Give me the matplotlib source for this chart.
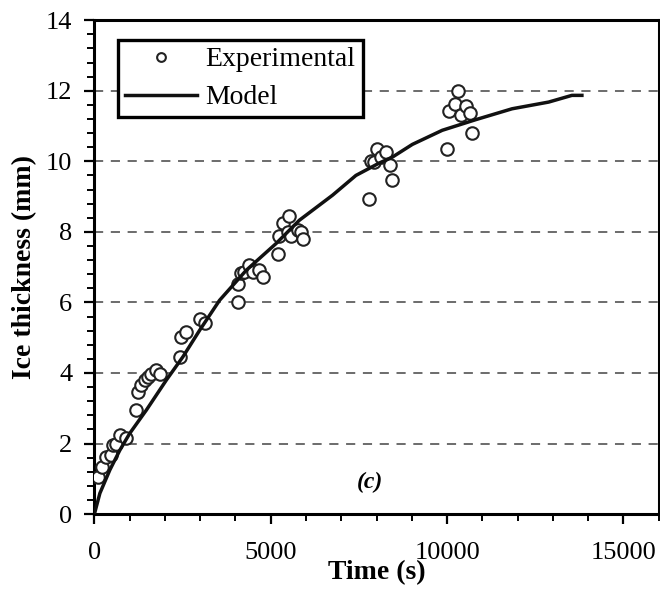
import matplotlib
matplotlib.use("Agg")
import matplotlib.pyplot as plt
from matplotlib.ticker import MultipleLocator

plt.rcParams['font.family'] = ['Liberation Serif', 'DejaVu Serif']

###############################################################################
# experimental points (time in s, thickness in mm)
exp_time = [107, 203, 325, 467, 532, 608, 721, 910, 1174, 1239, 1334, 1428,
            1522, 1617, 1759, 1852, 2418, 2465, 2607, 2984, 3125, 4067, 4067,
            4162, 4256, 4378, 4491, 4680, 4774, 5199, 5246, 5340, 5510, 5482,
            5576, 5765, 5859, 5906, 7791, 7838, 7932, 8027, 8122, 8263, 8377,
            8433, 10006, 10054, 10224, 10318, 10384, 10526, 10648, 10714]
exp_thick = [1.06, 1.34, 1.62, 1.67, 1.95, 2.00, 2.24, 2.17, 2.95, 3.46, 3.65,
             3.80, 3.89, 3.98, 4.08, 3.98, 4.46, 5.02, 5.16, 5.54, 5.42, 6.01,
             6.53, 6.84, 6.86, 7.05, 6.86, 6.93, 6.72, 7.37, 7.88, 8.25, 8.44,
             8.00, 7.88, 8.05, 8.00, 7.81, 8.94, 10.01, 9.98, 10.36, 10.12,
             10.26, 9.89, 9.46, 10.36, 11.43, 11.63, 11.98, 11.30, 11.56,
             11.37, 10.80]

# model curve
model_time = [0, 156, 438, 721, 1004, 1475, 2041, 2511, 2984, 3549, 4304,
              5152, 5812, 6753, 7415, 8074, 8450, 9016, 9864, 10809, 11844,
              12881, 13540, 13823]
model_thick = [0.0, 0.59, 1.25, 1.81, 2.29, 2.95, 3.80, 4.46, 5.21, 6.06, 6.91,
               7.67, 8.33, 9.04, 9.60, 9.95, 10.12, 10.48, 10.88, 11.18, 11.49,
               11.68, 11.87, 11.87]

###############################################################################
fig = plt.figure(figsize=(6.6, 5.95), dpi=100)
ax = fig.add_axes([0.143, 0.136, 0.855, 0.830])

ax.plot(exp_time, exp_thick, 'o', mfc='white', mec='#222222', ms=9,
        mew=1.5, label='Experimental', zorder=3)
ax.plot(model_time, model_thick, '-', color='#111111', lw=2.5,
        label='Model', zorder=4)

ax.set_xlim(0, 16000)
ax.set_ylim(0, 14)
ax.xaxis.set_major_locator(MultipleLocator(5000))
ax.xaxis.set_minor_locator(MultipleLocator(1000))
ax.yaxis.set_major_locator(MultipleLocator(2))
ax.yaxis.set_minor_locator(MultipleLocator(0.4))
ax.set_xticks([0, 5000, 10000, 15000])

for y in range(2, 14, 2):
    ax.axhline(y, color='#444444', lw=1.1, ls=(0, (6, 5)), zorder=1)

for s in ax.spines.values():
    s.set_linewidth(2.2)

ax.tick_params(axis='both', which='major', direction='out', length=7,
               width=1.6, labelsize=19)
ax.tick_params(axis='both', which='minor', direction='out', length=5,
               width=1.4)
ax.tick_params(axis='x', which='major', pad=13)
ax.tick_params(axis='y', which='major', pad=9)

ax.set_xlabel('Time (s)', fontsize=20, fontweight='bold', labelpad=-3)
ax.set_ylabel('Ice thickness (mm)', fontsize=20, fontweight='bold',
              labelpad=6)

ax.text(7800, 0.9, '(c)', fontsize=17, fontweight='bold', style='italic',
        ha='center', va='center')

leg = ax.legend(loc='upper left', bbox_to_anchor=(0.042, 0.96), fontsize=20,
                fancybox=False, framealpha=1, edgecolor='black',
                handlelength=2.6, markerscale=0.7, borderpad=0.25,
                labelspacing=0.45, handletextpad=0.3, borderaxespad=0)
leg.get_frame().set_linewidth(2.4)

fig.savefig('out.png', dpi=100)
